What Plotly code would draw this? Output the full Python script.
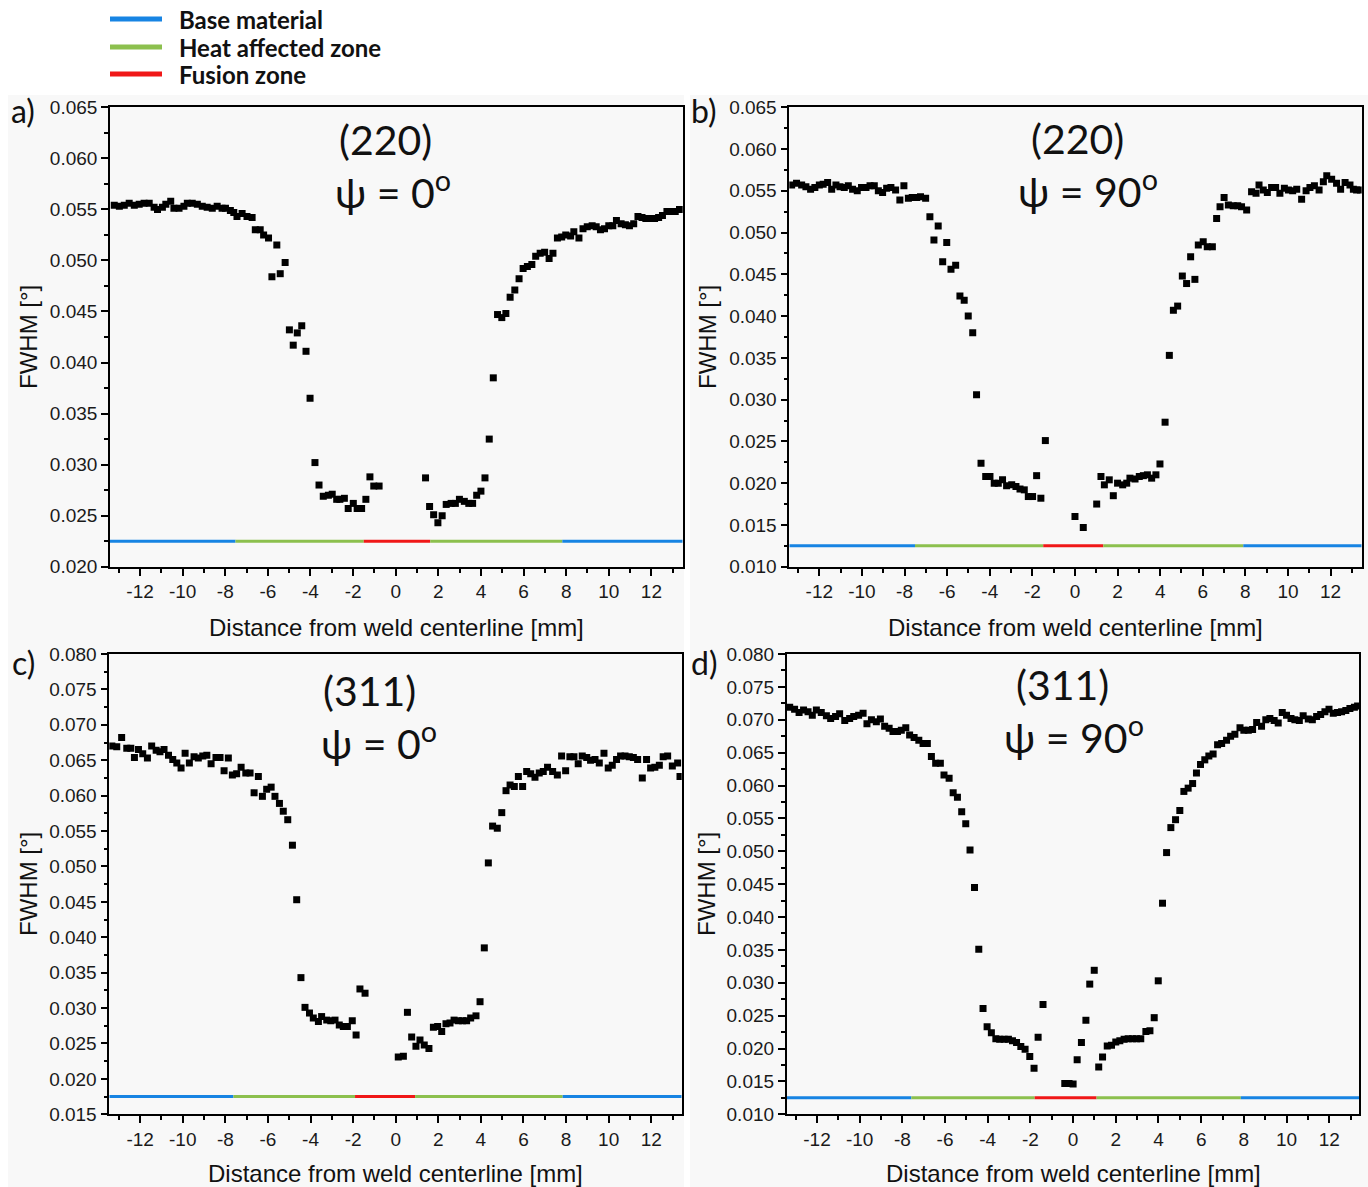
import plotly.graph_objects as go

# ---------------- data ----------------
a_x = [-13.21, -12.97, -12.74, -12.51, -12.27, -12.04, -11.81, -11.57, -11.34, -11.18,
       -10.95, -10.79, -10.56, -10.41, -10.17, -9.94, -9.78, -9.55, -9.31, -9.08,
       -8.85, -8.61, -8.38, -8.15, -7.99, -7.76, -7.60, -7.45, -7.21, -6.98,
       -6.74, -6.59, -6.36, -6.20, -5.97, -5.81, -5.58, -5.42, -5.19, -4.99,
       -4.81, -4.62, -4.41, -4.21, -4.02, -3.79, -3.60, -3.40, -3.16, -2.98,
       -2.77, -2.62, -2.41, -2.23, -1.99, -1.81, -1.60, -1.40, -1.21, -1.03, -0.78,
       1.40, 1.59, 1.78, 1.98, 2.18, 2.37, 2.60, 2.80, 2.99, 3.22,
       3.43, 3.61, 3.80, 4.00, 4.19, 4.39, 4.58, 4.78, 4.98, 5.17,
       5.37, 5.59, 5.79, 5.98, 6.18, 6.39, 6.57, 6.78, 6.99, 7.20,
       7.38, 7.59, 7.79, 7.98, 8.21, 8.36, 8.60, 8.79, 8.99, 9.22,
       9.41, 9.61, 9.80, 10.00, 10.19, 10.36, 10.58, 10.78, 10.97, 11.17,
       11.37, 11.56, 11.74, 11.95, 12.15, 12.34, 12.52, 12.73, 12.93, 13.12, 13.32]
a_y = [0.0554, 0.0553, 0.0554, 0.0556, 0.0554, 0.0555, 0.0556, 0.0556, 0.0552, 0.0550,
       0.0552, 0.0555, 0.0558, 0.0551, 0.0551, 0.0553, 0.0556, 0.0556, 0.0555, 0.0553,
       0.0552, 0.0551, 0.0553, 0.0551, 0.0551, 0.0549, 0.0547, 0.0543, 0.0546, 0.0543,
       0.0542, 0.0530, 0.0530, 0.0525, 0.0522, 0.0484, 0.0515, 0.0487, 0.0498, 0.0432,
       0.0417, 0.0429, 0.0436, 0.0411, 0.0365, 0.0302, 0.0280, 0.0269, 0.0270, 0.0271,
       0.0266, 0.0266, 0.0267, 0.0257, 0.0262, 0.0257, 0.0257, 0.0266, 0.0288, 0.0279, 0.0279,
       0.0287, 0.0259, 0.0251, 0.0243, 0.0250, 0.0261, 0.0262, 0.0262, 0.0266, 0.0264,
       0.0262, 0.0262, 0.0270, 0.0274, 0.0287, 0.0325, 0.0385, 0.0447, 0.0444, 0.0448,
       0.0464, 0.0471, 0.0482, 0.0492, 0.0494, 0.0496, 0.0504, 0.0507, 0.0508, 0.0502,
       0.0507, 0.0522, 0.0523, 0.0525, 0.0524, 0.0528, 0.0522, 0.0531, 0.0533, 0.0534,
       0.0533, 0.0530, 0.0531, 0.0534, 0.0534, 0.0539, 0.0536, 0.0535, 0.0534, 0.0536,
       0.0543, 0.0542, 0.0541, 0.0541, 0.0541, 0.0542, 0.0544, 0.0548, 0.0548, 0.0548, 0.0550]

b_x = [-13.30, -13.07, -12.83, -12.63, -12.41, -12.21, -12.00, -11.82, -11.61, -11.42,
       -11.22, -11.03, -10.83, -10.64, -10.44, -10.22, -10.02, -9.81, -9.62, -9.42,
       -9.23, -9.03, -8.84, -8.64, -8.42, -8.22, -8.03, -7.82, -7.64, -7.43,
       -7.25, -7.01, -6.81, -6.62, -6.42, -6.21, -6.02, -5.82, -5.60, -5.40,
       -5.20, -5.01, -4.80, -4.62, -4.41, -4.19, -3.99, -3.79, -3.60, -3.40,
       -3.21, -2.97, -2.77, -2.58, -2.38, -2.19, -1.99, -1.80, -1.60, -1.39,
       0.00, 0.39, 1.02, 1.22, 1.38, 1.61, 1.80, 2.00, 2.24, 2.43,
       2.58, 2.82, 3.02, 3.21, 3.40, 3.60, 3.80, 3.99, 4.23, 4.43,
       4.62, 4.82, 5.04, 5.24, 5.43, 5.63, 5.79, 6.02, 6.21, 6.45,
       6.65, 6.81, 7.00, 7.20, 7.43, 7.64, 7.82, 8.06, 8.29, 8.50,
       8.64, 8.84, 9.03, 9.23, 9.42, 9.62, 9.83, 10.02, 10.22, 10.41,
       10.64, 10.85, 11.03, 11.24, 11.46, 11.66, 11.82, 12.05, 12.28, 12.47,
       12.68, 12.91, 13.07, 13.22, 13.40]
b_y = [0.0557, 0.0559, 0.0557, 0.0555, 0.0552, 0.0554, 0.0557, 0.0558, 0.0560, 0.0552,
       0.0557, 0.0555, 0.0554, 0.0556, 0.0552, 0.0550, 0.0554, 0.0554, 0.0556, 0.0556,
       0.0550, 0.0548, 0.0553, 0.0554, 0.0551, 0.0539, 0.0556, 0.0541, 0.0542, 0.0542,
       0.0543, 0.0541, 0.0519, 0.0491, 0.0508, 0.0465, 0.0488, 0.0456, 0.0461, 0.0424,
       0.0419, 0.0400, 0.0380, 0.0306, 0.0224, 0.0208, 0.0208, 0.0200, 0.0200, 0.0204,
       0.0197, 0.0198, 0.0196, 0.0193, 0.0192, 0.0184, 0.0184, 0.0209, 0.0182, 0.0251,
       0.0160, 0.0147, 0.0175, 0.0208, 0.0198, 0.0204, 0.0185, 0.0200, 0.0198, 0.0200,
       0.0206, 0.0205, 0.0208, 0.0209, 0.0210, 0.0206, 0.0210, 0.0223, 0.0273, 0.0353,
       0.0407, 0.0412, 0.0448, 0.0439, 0.0471, 0.0444, 0.0485, 0.0489, 0.0483, 0.0483,
       0.0517, 0.0531, 0.0542, 0.0533, 0.0532, 0.0532, 0.0531, 0.0527, 0.0549, 0.0547,
       0.0557, 0.0551, 0.0548, 0.0554, 0.0554, 0.0547, 0.0553, 0.0551, 0.0550, 0.0552,
       0.0540, 0.0550, 0.0554, 0.0556, 0.0551, 0.0561, 0.0568, 0.0564, 0.0559, 0.0552,
       0.0560, 0.0557, 0.0552, 0.0551, 0.0551]

c_x = [-13.33, -13.10, -12.87, -12.63, -12.44, -12.27, -12.08, -11.88, -11.66, -11.46,
       -11.25, -11.07, -10.88, -10.67, -10.47, -10.28, -10.08, -9.89, -9.69, -9.47,
       -9.27, -9.06, -8.87, -8.67, -8.44, -8.25, -8.06, -7.86, -7.67, -7.47,
       -7.26, -7.04, -6.84, -6.65, -6.45, -6.26, -6.06, -5.85, -5.67, -5.46,
       -5.28, -5.07, -4.85, -4.65, -4.45, -4.26, -4.05, -3.87, -3.63, -3.48,
       -3.24, -3.05, -2.85, -2.65, -2.46, -2.27, -2.04, -1.86, -1.68, -1.44,
       0.12, 0.36, 0.55, 0.75, 0.95, 1.14, 1.34, 1.56, 1.77, 1.97,
       2.16, 2.36, 2.55, 2.74, 2.94, 3.14, 3.33, 3.52, 3.77, 3.96,
       4.16, 4.35, 4.55, 4.77, 4.98, 5.18, 5.37, 5.57, 5.76, 5.96,
       6.15, 6.34, 6.54, 6.74, 6.93, 7.13, 7.37, 7.59, 7.79, 7.98,
       8.18, 8.37, 8.57, 8.76, 8.97, 9.15, 9.36, 9.56, 9.78, 9.98,
       10.17, 10.37, 10.56, 10.77, 10.97, 11.16, 11.36, 11.58, 11.78, 11.97,
       12.17, 12.38, 12.56, 12.77, 12.99, 13.24, 13.35]
c_y = [0.0670, 0.0669, 0.0682, 0.0667, 0.0667, 0.0654, 0.0665, 0.0659, 0.0653, 0.0670,
       0.0664, 0.0662, 0.0665, 0.0657, 0.0651, 0.0646, 0.0639, 0.0660, 0.0646, 0.0655,
       0.0653, 0.0656, 0.0657, 0.0645, 0.0654, 0.0654, 0.0635, 0.0653, 0.0629, 0.0631,
       0.0640, 0.0632, 0.0632, 0.0604, 0.0627, 0.0599, 0.0609, 0.0612, 0.0599, 0.0589,
       0.0578, 0.0566, 0.0530, 0.0453, 0.0343, 0.0301, 0.0293, 0.0286, 0.0281, 0.0288,
       0.0283, 0.0282, 0.0283, 0.0276, 0.0274, 0.0274, 0.0282, 0.0262, 0.0327, 0.0321,
       0.0231, 0.0232, 0.0294, 0.0259, 0.0246, 0.0255, 0.0248, 0.0243, 0.0273, 0.0274,
       0.0267, 0.0278, 0.0279, 0.0283, 0.0282, 0.0282, 0.0282, 0.0286, 0.0289, 0.0309,
       0.0385, 0.0505, 0.0557, 0.0554, 0.0576, 0.0607, 0.0615, 0.0613, 0.0627, 0.0613,
       0.0634, 0.0631, 0.0626, 0.0632, 0.0634, 0.0640, 0.0634, 0.0629, 0.0656, 0.0635,
       0.0655, 0.0655, 0.0645, 0.0656, 0.0654, 0.0650, 0.0651, 0.0646, 0.0660, 0.0639,
       0.0643, 0.0651, 0.0656, 0.0656, 0.0655, 0.0654, 0.0651, 0.0625, 0.0651, 0.0639,
       0.0640, 0.0643, 0.0655, 0.0656, 0.0642, 0.0646, 0.0627]

d_x = [-13.28, -13.05, -12.84, -12.63, -12.42, -12.22, -12.03, -11.80, -11.56, -11.36,
       -11.13, -10.94, -10.70, -10.47, -10.28, -10.05, -9.84, -9.66, -9.45, -9.22,
       -9.03, -8.83, -8.62, -8.44, -8.23, -8.05, -7.84, -7.66, -7.45, -7.23,
       -7.03, -6.83, -6.64, -6.44, -6.22, -6.05, -5.81, -5.62, -5.42, -5.22,
       -5.03, -4.83, -4.62, -4.42, -4.22, -4.03, -3.83, -3.62, -3.44, -3.23,
       -3.03, -2.84, -2.65, -2.45, -2.25, -2.03, -1.83, -1.64, -1.41,
       -0.39, -0.19, 0.00, 0.19, 0.39, 0.60, 0.78, 0.99, 1.20, 1.38,
       1.60, 1.80, 2.00, 2.19, 2.39, 2.58, 2.78, 2.97, 3.17, 3.41,
       3.60, 3.80, 3.99, 4.19, 4.38, 4.58, 4.80, 5.00, 5.19, 5.39,
       5.60, 5.78, 5.97, 6.17, 6.36, 6.56, 6.77, 6.96, 7.19, 7.38,
       7.58, 7.82, 8.00, 8.21, 8.41, 8.60, 8.83, 9.03, 9.22, 9.42,
       9.61, 9.80, 10.00, 10.21, 10.39, 10.60, 10.78, 11.02, 11.21, 11.41,
       11.60, 11.80, 11.99, 12.19, 12.39, 12.58, 12.78, 12.97, 13.18, 13.33]
d_y = [0.0719, 0.0716, 0.0711, 0.0715, 0.0712, 0.0707, 0.0715, 0.0711, 0.0706, 0.0702,
       0.0705, 0.0709, 0.0699, 0.0702, 0.0705, 0.0707, 0.0710, 0.0694, 0.0700, 0.0697,
       0.0701, 0.0690, 0.0687, 0.0682, 0.0682, 0.0684, 0.0688, 0.0677, 0.0673, 0.0669,
       0.0664, 0.0664, 0.0644, 0.0634, 0.0634, 0.0616, 0.0611, 0.0589, 0.0582, 0.0560,
       0.0542, 0.0502, 0.0445, 0.0351, 0.0261, 0.0233, 0.0224, 0.0215, 0.0214, 0.0214,
       0.0214, 0.0212, 0.0209, 0.0203, 0.0199, 0.0188, 0.0170, 0.0217, 0.0267,
       0.0147, 0.0147, 0.0146, 0.0183, 0.0209, 0.0243, 0.0298, 0.0319, 0.0172, 0.0187,
       0.0204, 0.0205, 0.0210, 0.0212, 0.0214, 0.0215, 0.0215, 0.0215, 0.0215, 0.0226,
       0.0227, 0.0247, 0.0303, 0.0421, 0.0498, 0.0536, 0.0548, 0.0562, 0.0591, 0.0596,
       0.0603, 0.0619, 0.0632, 0.0639, 0.0645, 0.0648, 0.0662, 0.0664, 0.0669, 0.0675,
       0.0678, 0.0688, 0.0684, 0.0684, 0.0685, 0.0696, 0.0690, 0.0700, 0.0702, 0.0699,
       0.0695, 0.0711, 0.0707, 0.0702, 0.0700, 0.0699, 0.0706, 0.0701, 0.0700, 0.0705,
       0.0708, 0.0712, 0.0716, 0.0710, 0.0711, 0.0712, 0.0714, 0.0717, 0.0719, 0.0721]

# zone boundaries [mm] (Base | HAZ | Fusion | HAZ | Base) and the level where the bar is drawn
zone_names = ["Base material", "Heat affected zone", "Fusion zone", "Heat affected zone", "Base material"]
a_zone_edges = [-13.41, -7.52, -1.50, 1.62, 7.82, 13.47]
b_zone_edges = [-13.41, -7.51, -1.49, 1.33, 7.90, 13.46]
c_zone_edges = [-13.45, -7.62, -1.91, 0.91, 7.84, 13.43]
d_zone_edges = [-13.42, -7.58, -1.80, 1.10, 7.86, 13.41]
a_zone_level, b_zone_level, c_zone_level, d_zone_level = 0.0225, 0.0125, 0.0175, 0.0125

# axis ranges / ticks
a_xrange, a_yrange = [-13.41, 13.47], [0.020, 0.065]
b_xrange, b_yrange = [-13.41, 13.46], [0.010, 0.065]
c_xrange, c_yrange = [-13.45, 13.43], [0.015, 0.080]
d_xrange, d_yrange = [-13.42, 13.41], [0.010, 0.080]
x_tick_vals = [-12, -10, -8, -6, -4, -2, 0, 2, 4, 6, 8, 10, 12]
x_tick_text = ["-12", "-10", "-8", "-6", "-4", "-2", "0", "2", "4", "6", "8", "10", "12"]

panel_letters = ["a)", "b)", "c)", "d)"]
planes = ["(220)", "(220)", "(311)", "(311)"]
psis = ["ψ = 0<sup>o</sup>", "ψ = 90<sup>o</sup>", "ψ = 0<sup>o</sup>", "ψ = 90<sup>o</sup>"]
legend_labels = ["Base material", "Heat affected zone", "Fusion zone"]

# ---------------- style ----------------
W, H = 1368, 1187
BLUE, GREEN, RED = "#1784e3", "#8cc04e", "#f01818"
zone_colors = [BLUE, GREEN, RED, GREEN, BLUE]
legend_colors = [BLUE, GREEN, RED]
BG = "#f8f8f8"
TXT = "Lato, 'Open Sans', sans-serif"
AX = "'Liberation Sans', Arial, sans-serif"


def px(x):
    return x / W


def py(y):
    return 1 - y / H


panels = [
    dict(x=a_x, y=a_y, edges=a_zone_edges, level=a_zone_level, xr=a_xrange, yr=a_yrange,
         dom_x=(110, 682.7), dom_y=(107.3, 566.7)),
    dict(x=b_x, y=b_y, edges=b_zone_edges, level=b_zone_level, xr=b_xrange, yr=b_yrange,
         dom_x=(789.3, 1361.7), dom_y=(107.3, 566.7)),
    dict(x=c_x, y=c_y, edges=c_zone_edges, level=c_zone_level, xr=c_xrange, yr=c_yrange,
         dom_x=(109.3, 681.7), dom_y=(654, 1114.3)),
    dict(x=d_x, y=d_y, edges=d_zone_edges, level=d_zone_level, xr=d_xrange, yr=d_yrange,
         dom_x=(786.7, 1359.3), dom_y=(654, 1114.3)),
]

fig = go.Figure()
layout_axes = {}
for i, p in enumerate(panels):
    n = "" if i == 0 else str(i + 1)
    xa, ya = "x" + n, "y" + n
    # zone bars
    for k in range(5):
        fig.add_trace(go.Scatter(
            x=[p["edges"][k], p["edges"][k + 1]], y=[p["level"], p["level"]],
            mode="lines", line=dict(color=zone_colors[k], width=3),
            xaxis=xa, yaxis=ya, showlegend=False, hoverinfo="skip"))
    fig.add_trace(go.Scatter(
        x=p["x"], y=p["y"], mode="markers",
        marker=dict(symbol="square", size=7, color="black", line=dict(width=0)),
        xaxis=xa, yaxis=ya, showlegend=False))
    common = dict(showline=True, linecolor="black", linewidth=1.6, mirror=True,
                  ticks="outside", ticklen=7, tickwidth=1.5, tickcolor="black",
                  showgrid=False, zeroline=False, automargin=False,
                  tickfont=dict(family=AX, size=19, color="#1a1a1a"))
    layout_axes["xaxis" + n] = dict(
        common, domain=[px(p["dom_x"][0]), px(p["dom_x"][1])], range=p["xr"],
        anchor=ya, tickmode="array", tickvals=x_tick_vals, ticktext=x_tick_text,
        minor=dict(dtick=1, tick0=0, ticks="outside", ticklen=4, tickwidth=1.5, tickcolor="black"))
    layout_axes["yaxis" + n] = dict(
        common, domain=[py(p["dom_y"][1]), py(p["dom_y"][0])], range=p["yr"],
        anchor=xa, dtick=0.005, tick0=0, tickformat=".3f",
        minor=dict(dtick=0.0025, tick0=0, ticks="outside", ticklen=4, tickwidth=1.5, tickcolor="black"))

fig.update_layout(**layout_axes)


def note(text, x, y, size, family, **kw):
    d = dict(text=text, x=px(x), y=py(y), xref="paper", yref="paper", showarrow=False,
             xanchor="center", yanchor="middle", font=dict(family=family, size=size, color="#111"))
    d.update(kw)
    return d


ann = []
letter_pos = [(23, 110), (704, 110), (23, 662), (704, 662)]
# "(hkl)" sits with its bottom on a line, "psi" hangs just below that line
split_y = [164, 163, 715, 709]
plane_x = [385, 1077, 369, 1062]
psi_x = [393, 1088, 379, 1074]
xtitle_pos = [(396, 627), (1075, 627), (395, 1173), (1073, 1173)]
ytitle_pos = [(28, 337), (707, 337), (28, 884), (706, 884)]
for i in range(4):
    ann.append(note(panel_letters[i], *letter_pos[i], 32, TXT))
    ann.append(note(planes[i], plane_x[i], split_y[i] + 2, 41, TXT, yanchor="bottom"))
    ann.append(note(psis[i], psi_x[i], split_y[i] - 3, 41, TXT, yanchor="top"))
    ann.append(note("Distance from weld centerline [mm]", *xtitle_pos[i], 24, AX))
    ann.append(note("FWHM [°]", *ytitle_pos[i], 24, AX, textangle=-90))

shapes = [
    dict(type="rect", xref="paper", yref="paper", x0=px(8), x1=px(684), y0=py(1187), y1=py(95),
         fillcolor=BG, line=dict(width=0), layer="below"),
    dict(type="rect", xref="paper", yref="paper", x0=px(690), x1=px(1368), y0=py(1187), y1=py(95),
         fillcolor=BG, line=dict(width=0), layer="below"),
]
leg_y = [19, 47, 74]
for k in range(3):
    shapes.append(dict(type="line", xref="paper", yref="paper", x0=px(110), x1=px(162),
                       y0=py(leg_y[k]), y1=py(leg_y[k]),
                       line=dict(color=legend_colors[k], width=5)))
    ann.append(note("<b>" + legend_labels[k] + "</b>", 177, leg_y[k], 24, TXT, xanchor="left"))

fig.update_layout(width=W, height=H, margin=dict(l=0, r=0, t=0, b=0, autoexpand=False),
                  paper_bgcolor="white", plot_bgcolor=BG,
                  annotations=ann, shapes=shapes, showlegend=False)

fig.write_html("out.html")
